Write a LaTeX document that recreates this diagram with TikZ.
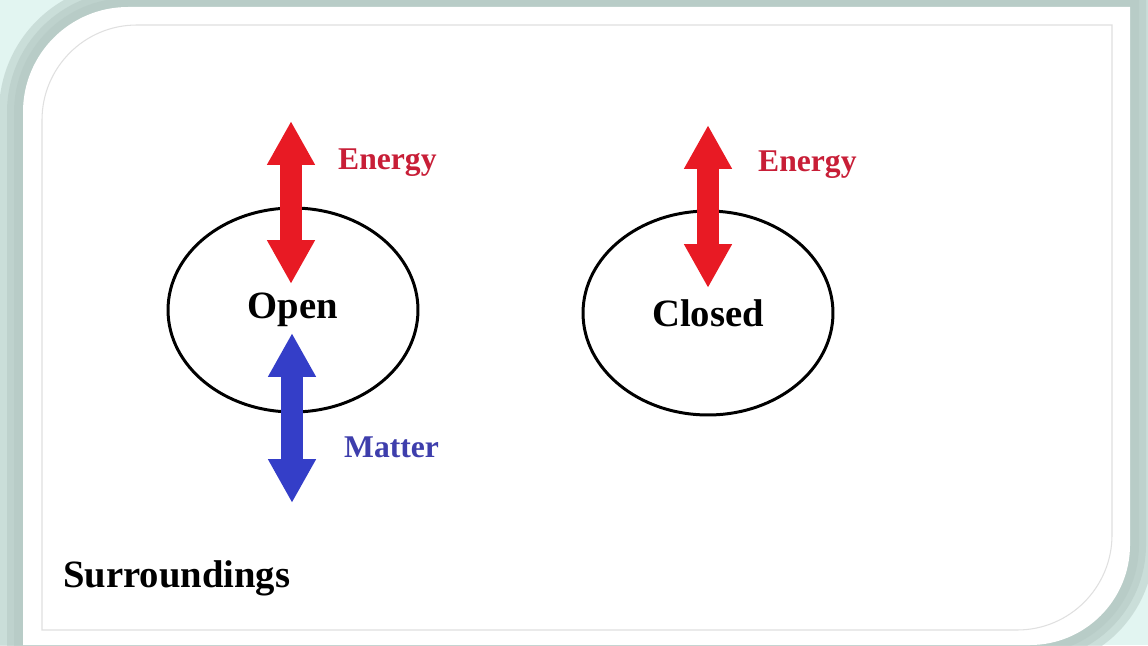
\documentclass[tikz,border=0pt]{standalone}
\usepackage{fontspec}
\setmainfont{Liberation Serif}
\usetikzlibrary{arrows.meta,shapes.geometric}
\definecolor{bgteal}{RGB}{226,245,241}
\definecolor{shadeteal}{RGB}{180,200,195}
\definecolor{framegray}{RGB}{224,224,224}
\definecolor{energyred}{RGB}{232,26,36}
\definecolor{energytext}{RGB}{200,30,55}
\definecolor{matterblue}{RGB}{52,62,200}
\definecolor{mattertext}{RGB}{62,62,172}
\newcommand{\cardoutline}{(23,645) -- (23,112) .. controls (23,54) and (70,7) .. (128,7) -- (1130,7) -- (1130,545) .. controls (1130,600) and (1085,645) .. (1030,645) -- cycle}

\begin{document}
\begin{tikzpicture}[x=0.02cm,y=-0.02cm,
  system/.style={ellipse,draw=black,line width=1.7pt,minimum width=5cm,
    minimum height=4.08cm,inner sep=0pt,font=\fontsize{22}{26}\selectfont\bfseries},
  flow/.style={line width=0.44cm,
    {Triangle[length=0.88cm,width=0.9cm]}-{Triangle[length=0.88cm,width=0.9cm]}},
  flowlabel/.style={anchor=base west,font=\fontsize{18}{22}\selectfont\bfseries}
]
\useasboundingbox (0,0) rectangle (1148,645);
% background and card
\fill[bgteal] (0,0) rectangle (1148,645);
\foreach \w in {48,32,18}
  \draw[shadeteal,opacity=0.5,line width=\w*0.02cm] \cardoutline;
\fill[white] \cardoutline;
\draw[framegray,line width=0.6pt] (42,630) -- (42,120) .. controls (42,68) and (84,25) .. (137,25)
  -- (1112,25) -- (1112,535) .. controls (1112,587) and (1070,630) .. (1017,630) -- cycle;

% systems
\node[system] (open) at (293,310) {Open};
\node[system] (closed) at (708,313) {Closed};

\coordinate (oetop) at (291,121);
\coordinate (oebot) at (291,284);
\coordinate (omtop) at (292,333);
\coordinate (ombot) at (292,503);
\coordinate (cetop) at (708,125);
\coordinate (cebot) at (708,288);

\draw[flow,energyred] (oetop) -- (oebot);
\draw[flow,matterblue] (omtop) -- (ombot);
\draw[flow,energyred] (cetop) -- (cebot);

\node[flowlabel,text=energytext] (oenergy) at (332,170) {Energy};
\node[flowlabel,text=mattertext] (omatter) at (338,457) {Matter};
\node[flowlabel,text=energytext] (cenergy) at (752,172) {Energy};
\node[anchor=base west,font=\fontsize{22}{26}\selectfont\bfseries] (surr) at (57,587) {Surroundings};
\end{tikzpicture}
\end{document}
